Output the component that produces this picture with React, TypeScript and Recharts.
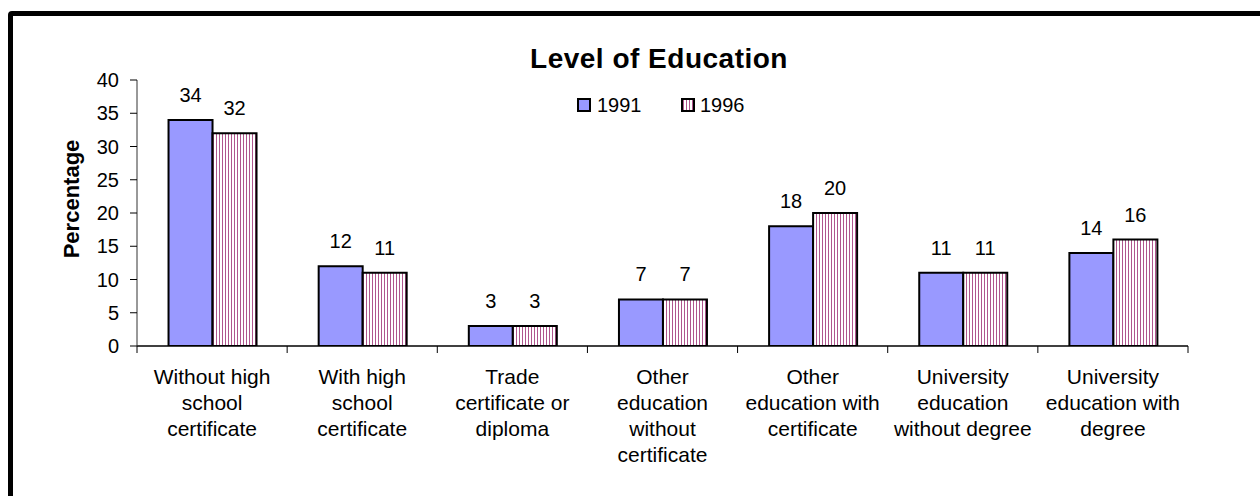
import React from 'react';
import { BarChart, Bar, XAxis, YAxis, LabelList, Legend } from 'recharts';

const categories = [
  'Without high school certificate',
  'With high school certificate',
  'Trade certificate or diploma',
  'Other education without certificate',
  'Other education with certificate',
  'University education without degree',
  'University education with degree',
];
const categoryLines = [
  ['Without high', 'school', 'certificate'],
  ['With high', 'school', 'certificate'],
  ['Trade', 'certificate or', 'diploma'],
  ['Other', 'education', 'without', 'certificate'],
  ['Other', 'education with', 'certificate'],
  ['University', 'education', 'without degree'],
  ['University', 'education with', 'degree'],
];
const values1991 = [34, 12, 3, 7, 18, 11, 14];
const values1996 = [32, 11, 3, 7, 20, 11, 16];
const yTicks = [0, 5, 10, 15, 20, 25, 30, 35, 40];
const edgeTicks = [0, 1, 2, 3, 4, 5, 6, 7];

const data = categories.map((name, i) => ({
  name,
  idx: i + 0.5,
  y1991: values1991[i],
  y1996: values1996[i],
}));

const FONT = '"Liberation Sans", Arial, Helvetica, sans-serif';
const BLUE = '#9999FF';
const STRIPE = '#b0568e';

const CatTick = (props: any) => {
  const { x, y, payload, index } = props;
  const i = typeof index === 'number' ? index : categories.indexOf(payload.value);
  const lines = categoryLines[i] || [String(payload.value)];
  return (
    <text x={x} y={y} textAnchor="middle" fontFamily={FONT} fontSize={21} fill="#000">
      {lines.map((l, k) => (
        <tspan key={k} x={x} y={y + 37 + k * 26}>
          {l}
        </tspan>
      ))}
    </text>
  );
};

const EmptyTick = () => <g />;

const LegendContent = () => (
  <svg width={190} height={26} style={{ display: 'block' }}>
    <defs>
      <pattern id="legStripes" width="3" height="3" patternUnits="userSpaceOnUse">
        <rect width="3" height="3" fill="#fff" />
        <rect x="0" width="1" height="3" fill={STRIPE} />
      </pattern>
    </defs>
    <rect x={3} y={6} width={12} height={12} fill={BLUE} stroke="#000" strokeWidth={2} />
    <text x={22} y={19} fontFamily={FONT} fontSize={20} fill="#000">1991</text>
    <rect x={107} y={6} width={12} height={12} fill="url(#legStripes)" stroke="#000" strokeWidth={2} />
    <text x={125} y={19} fontFamily={FONT} fontSize={20} fill="#000">1996</text>
  </svg>
);

export default function App() {
  return (
    <div
      style={{
        position: 'fixed',
        left: 0,
        top: 0,
        width: 1260,
        height: 496,
        overflow: 'hidden',
        background: '#fff',
      }}
    >
      <div
        style={{
          position: 'absolute',
          left: 8,
          top: 11,
          width: 1320,
          height: 600,
          border: '5px solid #000',
          borderRadius: 4,
          boxSizing: 'border-box',
        }}
      />
      <div style={{ position: 'absolute', left: 0, top: 0 }}>
        <BarChart
          width={1260}
          height={496}
          data={data}
          margin={{ top: 80, right: 72, bottom: 9, left: 0 }}
          barCategoryGap="21%"
          barGap={0}
        >
          <defs>
            <pattern id="barStripes" width="3" height="3" patternUnits="userSpaceOnUse">
              <rect width="3" height="3" fill="#fff" />
              <rect x="0" width="1" height="3" fill={STRIPE} />
            </pattern>
          </defs>
          <XAxis
            xAxisId="aEdges"
            dataKey="idx"
            type="number"
            domain={[0, 7]}
            ticks={edgeTicks}
            allowDataOverflow
            tick={EmptyTick}
            tickSize={7}
            tickLine={{ stroke: '#000', strokeWidth: 1 }}
            axisLine={{ stroke: '#000', strokeWidth: 1.5 }}
            height={1}
          />
          <XAxis
            xAxisId="zCat"
            dataKey="name"
            type="category"
            interval={0}
            tick={CatTick}
            tickLine={false}
            axisLine={false}
            tickSize={0}
            tickMargin={0}
            height={140}
          />
          <YAxis
            domain={[0, 40]}
            ticks={yTicks}
            allowDataOverflow
            width={137}
            tickSize={7}
            tickMargin={11}
            tick={{ fontFamily: FONT, fontSize: 20, fill: '#000' }}
            tickLine={{ stroke: '#000' }}
            axisLine={{ stroke: '#333', strokeWidth: 1 }}
          />
          <Legend
            verticalAlign="middle"
            layout="horizontal"
            content={LegendContent}
            wrapperStyle={{ position: 'absolute', left: 575, top: 93, width: 190, height: 26 }}
          />
          <Bar
            xAxisId="zCat"
            dataKey="y1991"
            name="1991"
            fill={BLUE}
            stroke="#000"
            strokeWidth={2}
            isAnimationActive={false}
          >
            <LabelList
              dataKey="y1991"
              position="top"
              offset={18}
              fontFamily={FONT}
              fontSize={20}
              fill="#000"
            />
          </Bar>
          <Bar
            xAxisId="zCat"
            dataKey="y1996"
            name="1996"
            fill="url(#barStripes)"
            stroke="#000"
            strokeWidth={2}
            isAnimationActive={false}
          >
            <LabelList
              dataKey="y1996"
              position="top"
              offset={18}
              fontFamily={FONT}
              fontSize={20}
              fill="#000"
            />
          </Bar>
        </BarChart>
      </div>
      <svg
        width={1260}
        height={496}
        style={{ position: 'absolute', left: 0, top: 0, pointerEvents: 'none' }}
      >
        <text
          x={659}
          y={68}
          textAnchor="middle"
          fontFamily={FONT}
          fontSize={28}
          fontWeight="bold"
          letterSpacing={0.5}
          fill="#000"
        >
          Level of Education
        </text>
        <text
          x={79}
          y={199}
          transform="rotate(-90 79 199)"
          textAnchor="middle"
          fontFamily={FONT}
          fontSize={22}
          fontWeight="bold"
          fill="#000"
        >
          Percentage
        </text>
      </svg>
    </div>
  );
}
